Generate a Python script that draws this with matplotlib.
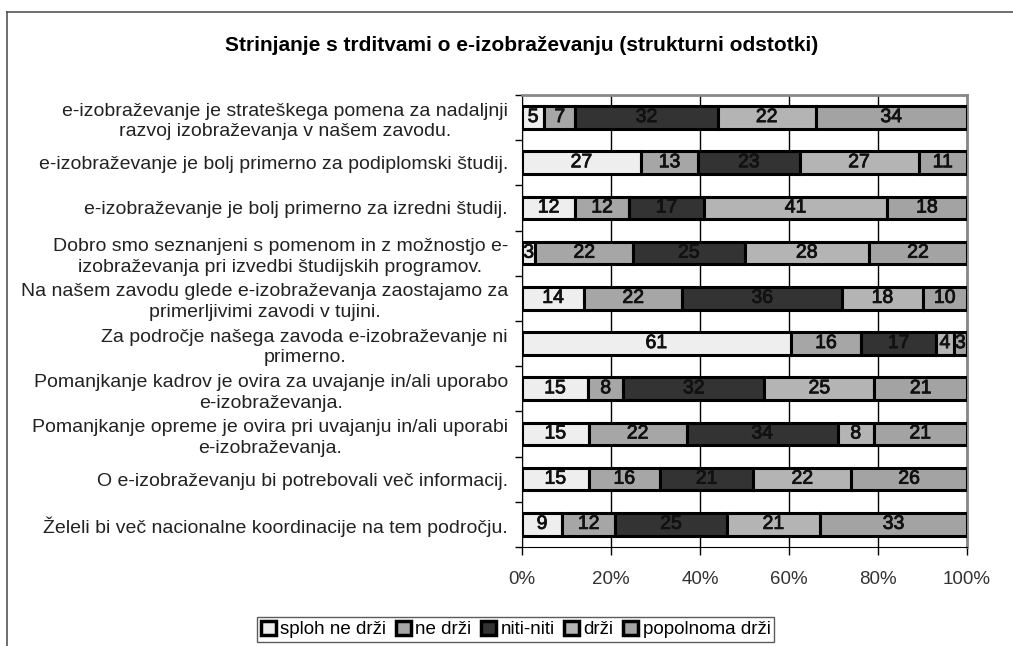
import matplotlib.pyplot as plt
import matplotlib.patheffects as pe
from matplotlib.lines import Line2D
import numpy as np

plt.rcParams['font.family'] = ['Liberation Sans', 'DejaVu Sans']

# statements, top to bottom
statements = [
    "e-izobraževanje je strateškega pomena za nadaljnji\nrazvoj izobraževanja v našem zavodu.",
    "e-izobraževanje je bolj primerno za podiplomski študij.",
    "e-izobraževanje je bolj primerno za izredni študij.",
    "Dobro smo seznanjeni s pomenom in z možnostjo e-\nizobraževanja pri izvedbi študijskih programov.",
    "Na našem zavodu glede e-izobraževanja zaostajamo za\nprimerljivimi zavodi v tujini.",
    "Za področje našega zavoda e-izobraževanje ni\nprimerno.",
    "Pomanjkanje kadrov je ovira za uvajanje in/ali uporabo\ne-izobraževanja.",
    "Pomanjkanje opreme je ovira pri uvajanju in/ali uporabi\ne-izobraževanja.",
    "O e-izobraževanju bi potrebovali več informacij.",
    "Želeli bi več nacionalne koordinacije na tem področju.",
]

categories = ["sploh ne drži", "ne drži", "niti-niti", "drži", "popolnoma drži"]
sploh_ne = [5, 27, 12, 3, 14, 61, 15, 15, 15, 9]
ne_drzi = [7, 13, 12, 22, 22, 16, 8, 22, 16, 12]
niti = [32, 23, 17, 25, 36, 17, 32, 34, 21, 25]
drzi = [22, 27, 41, 28, 18, 4, 25, 8, 22, 21]
popolnoma = [34, 11, 18, 22, 10, 3, 21, 21, 26, 33]
colors = ["#eeeeee", "#a6a6a6", "#333333", "#b4b4b4", "#a3a3a3"]

series = np.array([sploh_ne, ne_drzi, niti, drzi, popolnoma], dtype=float)
shares = series / series.sum(axis=0) * 100

fig = plt.figure(figsize=(10.13, 6.46), dpi=100)
ax = fig.add_axes([0.5153, 0.1533, 0.4393, 0.6997])

# outer chart frame
fig.add_artist(Line2D([0.007, 0.007], [0, 0.982], color="#555555", lw=1.2))
fig.add_artist(Line2D([0.007, 1.0], [0.982, 0.982], color="#555555", lw=1.2))

# slightly heavier digits, like the original
heavy = [pe.withStroke(linewidth=0.6, foreground="#111111")]

y = np.arange(len(statements))
left = np.zeros(len(statements))
for i in range(len(categories)):
    ax.barh(y, shares[i], left=left, height=0.5, color=colors[i],
            edgecolor="black", linewidth=2.2, label=categories[i], zorder=3)
    for j in range(len(statements)):
        ax.text(left[j] + shares[i][j] / 2, y[j], str(int(series[i][j])),
                ha="center", va="center", fontsize=14, color="#111111",
                path_effects=heavy, zorder=4)
    left += shares[i]

ax.set_xlim(0, 100)
ax.set_ylim(len(statements) - 0.5, -0.5)
ax.set_xticks([0, 20, 40, 60, 80, 100])
ax.set_xticklabels(["0%", "20%", "40%", "60%", "80%", "100%"], fontsize=13.5, color="#333333")
ax.tick_params(axis="x", length=6, width=1, pad=11)
ax.xaxis.grid(True, color="black", linewidth=1, zorder=0)

ax.set_yticks(y)
ax.set_yticklabels(statements, fontsize=14, color="#222222", ha="right",
                   multialignment="center", linespacing=1.3)
ax.tick_params(axis="y", length=0, pad=10)
ax.set_yticks(np.arange(-0.5, len(statements), 1), minor=True)
ax.tick_params(axis="y", which="minor", length=5, width=1)

ax.spines["left"].set_color("black")
ax.spines["bottom"].set_color("black")
ax.spines["top"].set_color("#888888")
ax.spines["right"].set_color("#888888")
ax.spines["top"].set_linewidth(2)
ax.spines["right"].set_linewidth(2)

fig.text(0.5153, 0.93, "Strinjanje s trditvami o e-izobraževanju (strukturni odstotki)",
         ha="center", va="center", fontsize=15, fontweight="bold")

leg = fig.legend(loc="center", bbox_to_anchor=(0.509, 0.0255), ncol=5, fontsize=13.5,
                 frameon=True, fancybox=False, edgecolor="#333333",
                 handlelength=0.8, handleheight=0.8, handletextpad=0.25,
                 columnspacing=0.5, borderpad=0.2)
for h in leg.legend_handles:
    h.set_linewidth(2.5)

fig.savefig("out.png", dpi=100)
